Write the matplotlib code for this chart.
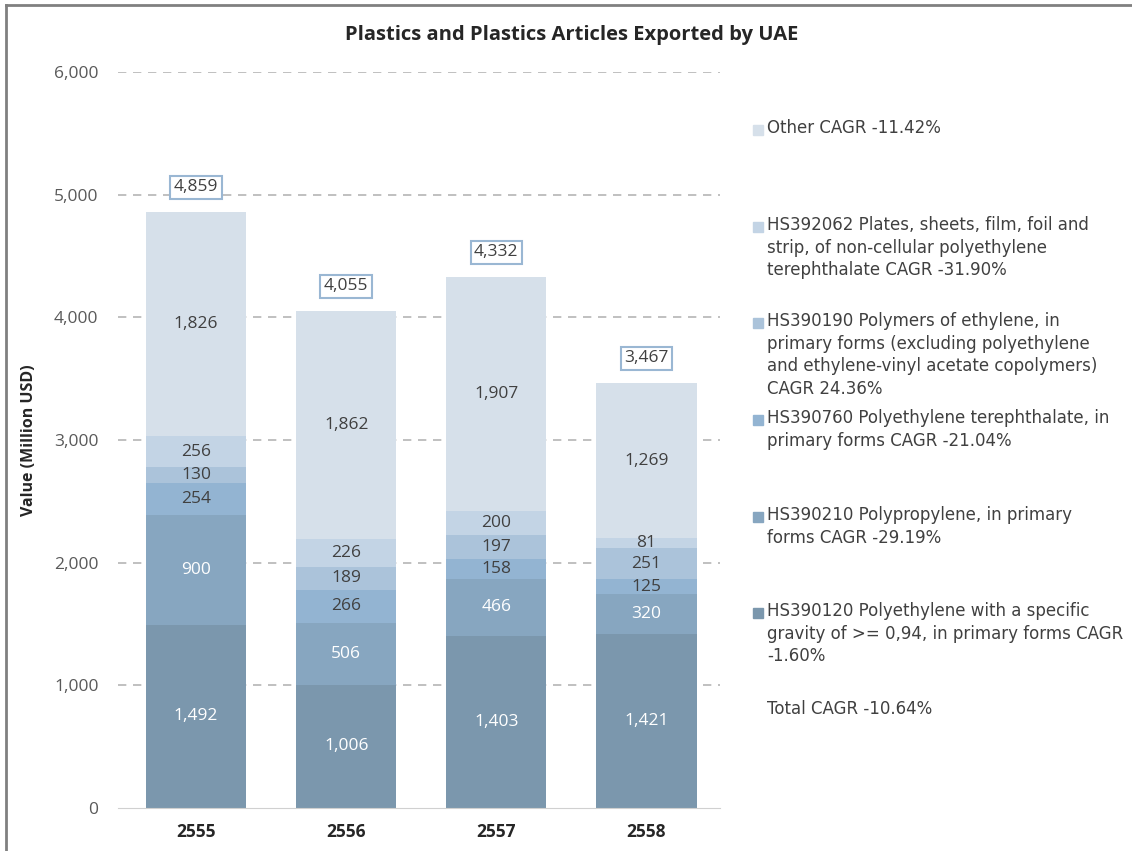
import matplotlib.pyplot as plt
from matplotlib.patches import Rectangle
from matplotlib.lines import Line2D

plt.rcParams['font.family'] = ['Open Sans', 'DejaVu Sans']

years = ['2555', '2556', '2557', '2558']
hs390120 = [1492, 1006, 1403, 1421]
hs390210 = [900, 506, 466, 320]
hs390760 = [254, 266, 158, 125]
hs390190 = [130, 189, 197, 251]
hs392062 = [256, 226, 200, 81]
other = [1826, 1862, 1907, 1269]
totals = [4859, 4055, 4332, 3467]

series = [hs390120, hs390210, hs390760, hs390190, hs392062, other]
colors = ['#7b97ad', '#87a6c0', '#93b4d2', '#abc3da', '#c3d4e5', '#d6e0ea']
label_colors = ['white', 'white', '#404040', '#404040', '#404040', '#404040']
legend_labels = [
    'HS390120 Polyethylene with a specific\ngravity of >= 0,94, in primary forms CAGR\n-1.60%',
    'HS390210 Polypropylene, in primary\nforms CAGR -29.19%',
    'HS390760 Polyethylene terephthalate, in\nprimary forms CAGR -21.04%',
    'HS390190 Polymers of ethylene, in\nprimary forms (excluding polyethylene\nand ethylene-vinyl acetate copolymers)\nCAGR 24.36%',
    'HS392062 Plates, sheets, film, foil and\nstrip, of non-cellular polyethylene\nterephthalate CAGR -31.90%',
    'Other CAGR -11.42%',
]
total_cagr = 'Total CAGR -10.64%'

W, H = 1132, 851
fig = plt.figure(figsize=(W / 100, H / 100), dpi=100)
ax = fig.add_axes([118 / W, 1 - 808 / H, (720 - 118) / W, (808 - 72) / H])

num_fam = ['Open Sans']
x = list(range(len(years)))
bottom = [0] * len(years)
for vals, c, lc in zip(series, colors, label_colors):
    ax.bar(x, vals, width=0.667, bottom=bottom, color=c, zorder=2)
    for i, v in enumerate(vals):
        ax.text(i, bottom[i] + v / 2, f'{v:,}', ha='center', va='center',
                fontsize=12.5, family=num_fam, color=lc, zorder=3)
    bottom = [b + v for b, v in zip(bottom, vals)]

for i, t in enumerate(totals):
    ax.text(i, t + 200, f'{t:,}', ha='center', va='center', fontsize=12.5,
            family=num_fam, color='#404040', zorder=3,
            bbox=dict(boxstyle='square,pad=0.2', fc='white', ec='#9ab7d3', lw=1.5))

ax.set_xlim(-0.52, 3.49)
ax.set_ylim(0, 6000)
ax.set_yticks(range(1000, 6001, 1000), minor=False)
ax.set_yticks(range(0, 6001, 1000))
ax.set_yticklabels([f'{v:,}' for v in range(0, 6001, 1000)], family=num_fam)
for v in range(1000, 6001, 1000):
    ax.axhline(v, linestyle=(0, (5, 4)), color='#b5b5b5', lw=1.2, zorder=0)
ax.set_xticks(x)
ax.set_xticklabels(years, fontweight='bold', fontsize=12.5, color='#262626', family=num_fam)
for s in ['top', 'right', 'left']:
    ax.spines[s].set_visible(False)
ax.spines['bottom'].set_color('#d0d0d0')
ax.spines['bottom'].set_zorder(4)
ax.tick_params(axis='both', length=0)
ax.tick_params(axis='y', labelsize=12.5, labelcolor='#595959', pad=14)
ax.tick_params(axis='x', pad=11)
ax.set_ylabel('Value (Million USD)', fontweight='bold', fontsize=11.5, color='#262626',
              labelpad=12, family=num_fam)

fig.text(572 / W, 1 - 35 / H, 'Plastics and Plastics Articles Exported by UAE',
         ha='center', va='center', fontsize=14.5, fontweight='bold', color='#262626',
         family=num_fam)

# legend drawn by hand, top entry first
legend_fam = ['DejaVu Sans']
legend_y = [130, 227, 323, 420, 517, 613]
for lab, c, y in zip(legend_labels[::-1], colors[::-1], legend_y):
    fig.patches.append(Rectangle((753 / W, 1 - (y + 5) / H), 10 / W, 10 / H,
                                 transform=fig.transFigure, color=c))
    fig.text(767 / W, 1 - (y - 11) / H, lab, ha='left', va='top', fontsize=12,
             family=legend_fam, color='#404040', linespacing=1.33)
fig.text(767 / W, 1 - (711 - 11) / H, total_cagr, ha='left', va='top', fontsize=12,
         family=legend_fam, color='#404040')

# outer frame (top and left)
fig.add_artist(Line2D([6 / W, 1], [1 - 5 / H, 1 - 5 / H], color='#808080', lw=2))
fig.add_artist(Line2D([6 / W, 6 / W], [0, 1 - 5 / H], color='#808080', lw=2))

fig.savefig('out.png', dpi=100)
